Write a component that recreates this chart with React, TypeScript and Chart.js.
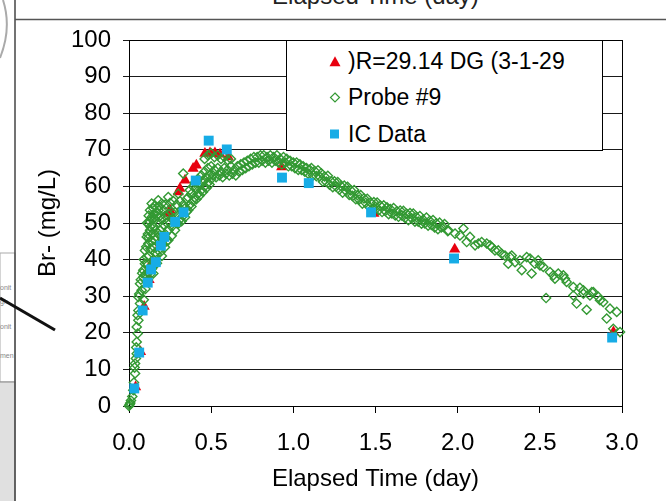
import React, { useEffect, useRef } from 'react';
import { Chart, registerables } from 'chart.js';

Chart.register(...registerables);

const FONT = "'Liberation Sans', Arial, Helvetica, sans-serif";

const xTickValues = [0, 0.5, 1, 1.5, 2, 2.5, 3];
const xTickLabels = ['0.0', '0.5', '1.0', '1.5', '2.0', '2.5', '3.0'];
const yTickValues = [0, 10, 20, 30, 40, 50, 60, 70, 80, 90, 100];
const yTickLabels = ['0', '10', '20', '30', '40', '50', '60', '70', '80', '90', '100'];

const seriesNames = [')R=29.14 DG (3-1-29', 'Probe #9', 'IC Data'];
const xTitle = 'Elapsed Time (day)';
const yTitle = 'Br- (mg/L)';

// )R=29.14 DG (3-1-29  [day, mg/L]
const drData: [number, number][] = [
  [0.04, 5.2], [0.07, 14.8], [0.092, 27.2], [0.122, 34.5], [0.142, 39.5], [0.19, 44.5],
  [0.24, 52.6], [0.25, 53.5], [0.3, 58.5], [0.31, 59.4], [0.341, 61.7], [0.39, 64.9],
  [0.41, 65.8], [0.462, 69], [0.493, 69.1], [0.523, 69.1], [0.554, 68.8], [0.604, 68],
  [0.929, 65.3], [1.49, 52.6], [1.982, 42.8], [2.948, 20.2],
];

// Probe #9 — rising limb
const probeRise: [number, number][] = [
  [0, 0], [0.004, 0.4], [0.008, 0.8], [0.012, 1.5], [0.02, 2.6], [0.026, 4.3], [0.03, 6.4],
  [0.037, 8.9], [0.034, 10.5], [0.037, 11.6], [0.042, 13], [0.047, 14.3], [0.044, 16],
  [0.047, 17.5], [0.053, 19.8], [0.047, 21.6], [0.057, 23.4], [0.052, 24.8], [0.057, 26.1],
  [0.067, 28], [0.057, 29.8], [0.062, 30.6], [0.077, 31.6], [0.067, 33.4], [0.072, 34.5],
  [0.087, 35.2], [0.08, 36.3], [0.087, 37.1], [0.097, 38.9], [0.09, 40], [0.108, 40.7],
  [0.097, 42.5], [0.105, 43.5], [0.118, 44.4], [0.108, 46.2], [0.115, 47], [0.128, 48],
  [0.118, 49.8], [0.125, 50.5], [0.138, 51.6], [0.128, 53.5], [0.138, 55.3], [0.148, 54],
  [0.158, 54.8], [0.168, 53], [0.178, 56.2], [0.185, 54.5], [0.199, 55.3], [0.21, 53.5],
  [0.22, 55], [0.239, 57.1], [0.25, 55.5], [0.27, 56], [0.3, 58],
  [0.09, 29], [0.1, 32], [0.115, 34.5], [0.13, 36], [0.148, 36.2], [0.17, 39], [0.2, 41],
  [0.1, 36], [0.11, 39], [0.12, 41], [0.13, 43], [0.14, 45], [0.15, 43.5], [0.16, 45.3],
  [0.178, 47.1], [0.2, 44], [0.219, 43.4], [0.239, 45.3], [0.26, 46.5], [0.28, 48],
  [0.3, 49.8], [0.32, 50.5], [0.341, 51.6],
  [0.13, 38], [0.15, 40], [0.17, 41.5], [0.19, 42], [0.12, 36.5], [0.14, 37.5], [0.16, 42],
  [0.18, 44.5], [0.21, 45.5],
  [0.11, 50], [0.12, 46], [0.12, 52], [0.13, 49], [0.14, 47], [0.14, 51], [0.15, 49],
  [0.15, 52.5], [0.16, 48], [0.16, 51], [0.17, 46], [0.17, 52], [0.18, 50], [0.18, 53.5],
  [0.19, 48], [0.19, 52], [0.2, 46.5], [0.2, 51], [0.21, 49.5], [0.22, 47], [0.22, 52],
  [0.23, 45], [0.23, 50], [0.24, 48], [0.24, 52.5], [0.25, 50], [0.26, 49], [0.26, 53],
  [0.27, 51], [0.28, 53], [0.29, 50], [0.29, 55], [0.3, 52], [0.31, 51], [0.31, 56],
  [0.32, 53.5], [0.33, 52], [0.33, 55], [0.33, 63.5], [0.34, 54], [0.35, 53], [0.35, 56.5],
];

// Probe #9 — peak
const probePeak: [number, number][] = [
  [0.36, 53.5], [0.36, 57], [0.37, 55], [0.37, 59], [0.38, 54.5], [0.38, 58], [0.39, 56],
  [0.39, 60], [0.4, 57], [0.4, 61], [0.41, 56.5], [0.41, 59.5], [0.42, 58], [0.42, 62],
  [0.43, 57.5], [0.43, 60.5], [0.44, 59], [0.44, 63], [0.45, 58.5], [0.45, 61.5], [0.46, 60],
  [0.46, 64], [0.47, 59.5], [0.47, 62.5], [0.48, 61], [0.48, 65], [0.49, 60.5], [0.49, 63],
  [0.5, 62], [0.5, 65.5],
  [0.46, 67.5], [0.48, 68.5], [0.5, 69], [0.52, 68], [0.54, 68.5], [0.56, 67.5], [0.58, 68],
  [0.6, 67.2], [0.62, 67.5],
  [0.51, 63], [0.52, 64.5], [0.53, 62.5], [0.54, 65], [0.55, 63], [0.56, 64], [0.57, 62.5],
  [0.58, 65], [0.59, 63.5], [0.6, 64.5], [0.61, 63], [0.62, 65.5], [0.63, 63.5], [0.64, 64.5],
  [0.65, 63], [0.66, 65.5], [0.67, 64], [0.68, 66], [0.69, 64.5], [0.7, 66.5],
  [0.71, 65], [0.72, 67], [0.73, 65.5], [0.74, 67.5], [0.75, 66], [0.76, 68], [0.77, 66.5],
  [0.78, 68], [0.79, 66.5], [0.8, 68.5], [0.81, 67], [0.82, 68.5], [0.83, 66.5], [0.84, 68],
  [0.85, 67], [0.86, 68.5], [0.87, 66.5], [0.88, 68], [0.89, 67], [0.9, 68.5], [0.91, 66.5],
  [0.92, 67.5], [0.93, 66], [0.94, 68], [0.95, 66.5], [0.96, 67.5], [0.97, 65.5], [0.98, 67],
  [0.99, 65.5], [1.0, 66.5], [1.01, 65], [1.02, 66.5], [1.03, 64.5], [1.04, 66], [1.05, 64.5],
  [1.06, 65.5], [1.07, 64], [1.08, 65], [1.09, 63.5], [1.1, 64.5],
];

// Probe #9 — decline
const probeDecline: [number, number][] = [
  [1.11, 65.0], [1.12, 63.0], [1.13, 64.2], [1.14, 62.8], [1.15, 64.4], [1.16, 62.7],
  [1.17, 63.6], [1.18, 61.3], [1.19, 62.7], [1.2, 61.3], [1.21, 62.9], [1.22, 60.5],
  [1.23, 61.4], [1.24, 59.8], [1.25, 61.4], [1.26, 60.0], [1.27, 61.2], [1.28, 59.1],
  [1.29, 60.1], [1.3, 58.3], [1.31, 60.2], [1.32, 58.8], [1.33, 59.9], [1.34, 57.7],
  [1.35, 58.9], [1.36, 57.4], [1.37, 59.0], [1.38, 56.5], [1.39, 57.6], [1.4, 56.4],
  [1.41, 57.6], [1.42, 55.3], [1.43, 56.7], [1.44, 55.5], [1.45, 56.6], [1.46, 54.5],
  [1.47, 55.6], [1.48, 53.9], [1.49, 55.7], [1.5, 54.4], [1.51, 55.6], [1.52, 53.5],
  [1.53, 54.7], [1.54, 53.0], [1.55, 54.8], [1.56, 53.3], [1.57, 54.3], [1.58, 52.4],
  [1.59, 53.8], [1.6, 52.6], [1.61, 54.1], [1.62, 52.1], [1.63, 53.2], [1.64, 51.7],
  [1.65, 53.4], [1.66, 52.1], [1.67, 53.3], [1.68, 51.4], [1.69, 52.5], [1.7, 50.8],
  [1.71, 52.7], [1.72, 51.3], [1.73, 52.6], [1.74, 50.4], [1.75, 51.6], [1.76, 50.4],
  [1.77, 51.9], [1.78, 49.8], [1.79, 50.9], [1.8, 49.9], [1.81, 51.5], [1.82, 49.3],
  [1.83, 50.6], [1.84, 49.5], [1.85, 50.8], [1.86, 48.8], [1.87, 49.9], [1.88, 48.3],
  [1.89, 50.1], [1.9, 48.8], [1.92, 49.7], [1.94, 47.8],
];

// Probe #9 — tail
const probeTail: [number, number][] = [
  [1.913, 48.9], [1.943, 48], [1.984, 47.1], [2.014, 46.6], [2.035, 48.5], [2.055, 44.8],
  [2.075, 46.2], [2.106, 43.9], [2.126, 44.4], [2.146, 44.8], [2.177, 44.4], [2.197, 43.9],
  [2.207, 43.4], [2.227, 42.5], [2.247, 42.5], [2.268, 41.6], [2.288, 41.1], [2.308, 38.9],
  [2.318, 40.7], [2.329, 41.1], [2.349, 39.3], [2.379, 39.8], [2.39, 37.1], [2.42, 40.7],
  [2.44, 40.3], [2.45, 36.2], [2.47, 38.9], [2.49, 39.8], [2.501, 38.4], [2.521, 38],
  [2.538, 29.5], [2.562, 36.6], [2.582, 35.7], [2.592, 34.8], [2.612, 36.2], [2.643, 35.7],
  [2.653, 34.8], [2.663, 33.9], [2.704, 30.2], [2.704, 32.5], [2.724, 28], [2.744, 32.3],
  [2.765, 30.7], [2.765, 31.6], [2.785, 26.3], [2.805, 30.2], [2.816, 31.1], [2.826, 31.1],
  [2.856, 29.8], [2.866, 28.9], [2.886, 28.4], [2.907, 23.9], [2.927, 26.6], [2.947, 21.1],
  [2.968, 25.7], [2.988, 20.2],
];

// IC Data
const icData: [number, number][] = [
  [0.032, 4.8], [0.062, 14.6], [0.083, 26.1], [0.114, 33.7], [0.134, 37.3], [0.163, 39.3],
  [0.194, 43.8], [0.215, 46.2], [0.281, 50.3], [0.332, 52.9], [0.406, 61.6], [0.485, 72.5],
  [0.595, 70.1], [0.931, 62.4], [1.094, 60.9], [1.473, 52.9], [1.978, 40.3], [2.94, 18.7],
];

const RED = '#e8000f';
const GREEN = '#339933';
const BLUE = '#17ace6';

const toPts = (arr: [number, number][]) => arr.map(([x, y]) => ({ x, y }));

const framePlugin = {
  id: 'frame',
  beforeDatasetsDraw(chart: any) {
    const { ctx, chartArea: a } = chart;
    ctx.save();
    ctx.strokeStyle = '#000';
    ctx.lineWidth = 1;
    ctx.strokeRect(Math.round(a.left) + 0.5, Math.round(a.top) + 0.5,
      Math.round(a.right - a.left), Math.round(a.bottom - a.top));
    ctx.restore();
  },
};

export default function App() {
  const ref = useRef<HTMLCanvasElement | null>(null);

  useEffect(() => {
    if (!ref.current) return;
    const tickFont = { family: FONT, size: 24 };
    const chart = new Chart(ref.current, {
      type: 'scatter',
      data: {
        datasets: [
          {
            label: seriesNames[0], data: toPts(drData), showLine: false,
            pointStyle: 'triangle', pointRadius: 6.5, pointBackgroundColor: RED,
            pointBorderWidth: 0, order: 3, clip: false,
          } as any,
          {
            label: seriesNames[1], data: toPts([...probeRise, ...probePeak, ...probeDecline, ...probeTail]),
            showLine: false, pointStyle: 'rectRot', pointRadius: 4.6,
            pointBackgroundColor: 'rgba(0,0,0,0)', pointBorderColor: GREEN, pointBorderWidth: 1.4,
            order: 2, clip: false,
          } as any,
          {
            label: seriesNames[2], data: toPts(icData), showLine: false,
            pointStyle: 'rect', pointRadius: 7, pointBackgroundColor: BLUE,
            pointBorderWidth: 0, order: 1, clip: false,
          } as any,
        ],
      },
      options: {
        animation: false,
        responsive: false,
        maintainAspectRatio: false,
        events: [],
        layout: { padding: { top: 40, right: 44, left: 0, bottom: 0 } },
        plugins: { legend: { display: false }, tooltip: { enabled: false } },
        scales: {
          x: {
            type: 'linear', min: 0, max: 3,
            afterBuildTicks: (s: any) => { s.ticks = xTickValues.map((v) => ({ value: v })); },
            afterFit: (s: any) => { s.height = 95; },
            ticks: {
              font: tickFont, color: '#000', padding: 16, maxRotation: 0, autoSkip: false,
              callback: (v: any) => xTickLabels[xTickValues.indexOf(Number(v))] ?? '',
            },
            grid: { drawOnChartArea: false, drawTicks: true, tickLength: 7, color: '#000', lineWidth: 1 },
            border: { color: '#000', width: 1 },
            title: { display: true, text: xTitle, font: tickFont, color: '#000', padding: { top: 0, bottom: 7 } },
          },
          y: {
            type: 'linear', min: 0, max: 100,
            afterBuildTicks: (s: any) => { s.ticks = yTickValues.map((v) => ({ value: v })); },
            afterFit: (s: any) => { s.width = 129; },
            ticks: {
              font: tickFont, color: '#000', padding: 12, autoSkip: false,
              callback: (v: any) => yTickLabels[yTickValues.indexOf(Number(v))] ?? '',
            },
            grid: { drawTicks: true, tickLength: 6, color: '#1a1a1a', lineWidth: 1 },
            border: { color: '#000', width: 1 },
            title: { display: true, text: yTitle, font: tickFont, color: '#000', padding: { top: 34, bottom: 0 } },
          },
        },
      } as any,
      plugins: [framePlugin],
    });
    return () => chart.destroy();
  }, []);

  const legendText: React.CSSProperties = {
    position: 'absolute', left: 348, fontFamily: FONT, fontSize: 23, lineHeight: '26px',
    color: '#000', whiteSpace: 'nowrap',
  };

  return (
    <div style={{ position: 'absolute', left: 0, top: 0, width: 666, height: 501, background: '#fff', overflow: 'hidden' }}>
      <svg width={666} height={501} style={{ position: 'absolute', left: 0, top: 0 }}>
        <text x={375.5} y={4} textAnchor="middle" fontFamily={FONT} fontSize={24} fill="#222">{xTitle}</text>
        <path d="M 3 0 Q 12 28 0 58" stroke="#aaa" strokeWidth={2} fill="none" />
        <rect x={0} y={253} width={15} height={129} fill="#fff" stroke="#aaa" strokeWidth={1} />
        <rect x={-1} y={382} width={16} height={125} fill="#e0e0e0" stroke="#888" strokeWidth={1} />
        <text x={0} y={290} fontFamily={FONT} fontSize={7} fill="#888">onit</text>
        <text x={0} y={304} fontFamily={FONT} fontSize={7} fill="#888">gh</text>
        <text x={0} y={329} fontFamily={FONT} fontSize={7} fill="#888">onit</text>
        <text x={0} y={358} fontFamily={FONT} fontSize={7} fill="#888">men</text>
        <line x1={15} y1={0} x2={15} y2={501} stroke="#444" strokeWidth={1.5} />
        <line x1={15} y1={19.5} x2={666} y2={19.5} stroke="#555" strokeWidth={1.5} />
        <line x1={0} y1={298} x2={55} y2={330} stroke="#111" strokeWidth={3} />
      </svg>
      <canvas ref={ref} width={666} height={501} style={{ position: 'absolute', left: 0, top: 0 }} />
      <div style={{ position: 'absolute', left: 286, top: 40, width: 317, height: 111, border: '1px solid #000', background: '#fff', boxSizing: 'border-box' }} />
      <svg width={666} height={501} style={{ position: 'absolute', left: 0, top: 0, pointerEvents: 'none' }}>
        <polygon points="329.5,66.3 340.5,66.3 335,56.3" fill={RED} />
        <polygon points="335,93 339.5,97.5 335,102 330.5,97.5" fill="none" stroke={GREEN} strokeWidth={1.2} />
        <rect x={330} y={129.5} width={9} height={9} fill={BLUE} />
      </svg>
      <span style={{ ...legendText, top: 47.5 }}>{seriesNames[0]}</span>
      <span style={{ ...legendText, top: 84 }}>{seriesNames[1]}</span>
      <span style={{ ...legendText, top: 121 }}>{seriesNames[2]}</span>
    </div>
  );
}
